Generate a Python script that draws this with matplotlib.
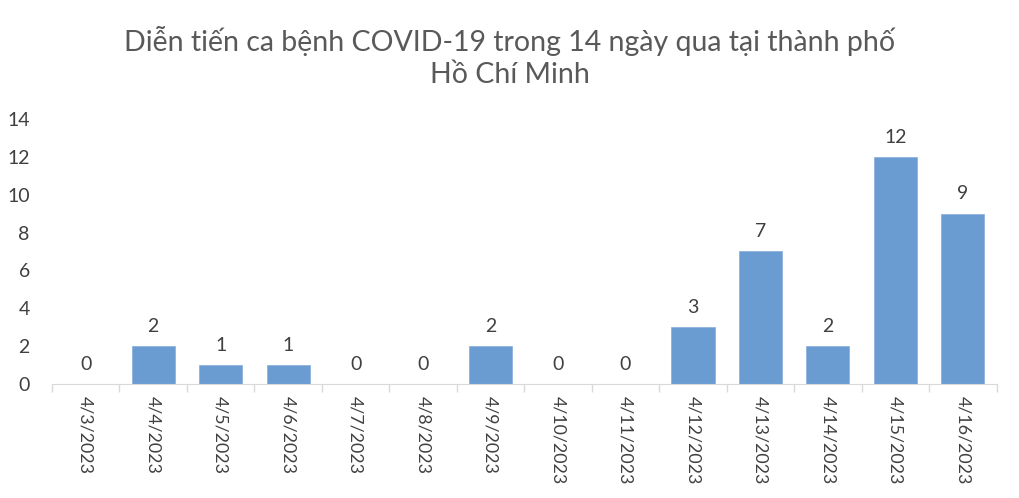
import numpy as np
import matplotlib.pyplot as plt

dates = ['4/3/2023', '4/4/2023', '4/5/2023', '4/6/2023', '4/7/2023', '4/8/2023', '4/9/2023',
         '4/10/2023', '4/11/2023', '4/12/2023', '4/13/2023', '4/14/2023', '4/15/2023', '4/16/2023']
cases = [0, 2, 1, 1, 0, 0, 2, 0, 0, 3, 7, 2, 12, 9]

plt.rcParams['font.family'] = ['Lato', 'DejaVu Sans']
text_color = '#404040'
axis_color = '#D9D9D9'

fig = plt.figure(figsize=(10.2, 4.98), dpi=100)
ax = fig.add_axes([0.051, 0.229, 0.926, 0.532])

x = np.arange(len(dates))
bars = ax.bar(x, cases, width=0.64, color='#6A9BD1', edgecolor='#8FB4DE', linewidth=0.6)
for xi, v in zip(x, cases):
    ax.text(xi, v + 0.6, str(v), ha='center', va='bottom', fontsize=14, color=text_color)

ax.set_xlim(-0.5, len(dates) - 0.5)
ax.set_ylim(0, 14)
ax.set_yticks(range(0, 15, 2))
ax.tick_params(axis='y', length=0, labelsize=14, labelcolor=text_color, pad=16)

ax.set_xticks(x)
ax.set_xticklabels(dates, rotation=270, fontsize=12.8, color=text_color)
ax.tick_params(axis='x', which='major', length=0, pad=9)
ax.set_xticks(np.arange(-0.5, len(dates)), minor=True)
ax.tick_params(axis='x', which='minor', length=6, color=axis_color, width=1)

for s in ['top', 'right', 'left']:
    ax.spines[s].set_visible(False)
ax.spines['bottom'].set_color(axis_color)

fig.text(0.5, 0.885, 'Diễn tiến ca bệnh COVID-19 trong 14 ngày qua tại thành phố\nHồ Chí Minh',
         ha='center', va='center', fontsize=20.5, color='#595959', linespacing=1.3)

fig.savefig('out.png', dpi=100)
